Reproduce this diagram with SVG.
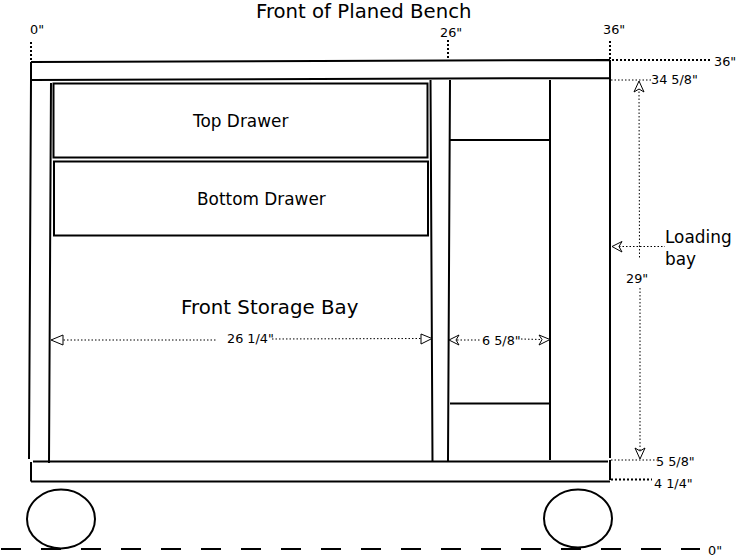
<svg xmlns="http://www.w3.org/2000/svg" width="737" height="559" viewBox="0 0 737 559">
<style>
text{font-family:"DejaVu Sans",sans-serif;fill:#000}
.s{font-size:12.800px}
.m{font-size:16.900px}
.l{font-size:19.800px}
.t{font-size:19.700px}
.b{fill:none;stroke:#000;stroke-width:2;stroke-linecap:butt}
.d{fill:none;stroke:#000;stroke-width:1;stroke-dasharray:1.5 2}
.h{fill:none;stroke:#000;stroke-width:2;stroke-dasharray:2 2}
.a{fill:#fff;stroke:#000;stroke-width:1}
</style>
<rect width="737" height="559" fill="#fff"/>
<g id="connectors">
<path class="b" d="M31 62L610 60M31 80L610 78M31 62V80M31 80L29 459M51 83L49 463M430.500 80L432.500 461M450 80L448 461M550 80V460M610 60V458M450 140H550M450 403.500H550M33 461.500H608M31 462V481.500M31 481.500H610M610 460V480"/>
<path class="h" d="M31 42V62M448 40V60M610 41V60M612 60H710M611 479.500H652"/>
<path class="d" d="M611 80H652M611 460H657M639 88L639.500 258M640 288V450M619 246.500H665M60 340H216M272 339L423 338.500M457 340H480M521 339L541 339.500"/>
<path class="a" d="M639 81L634 92L639 89L644 92ZM640 459L635 448L640 451L645 448ZM612 246.500L622 241.500L619 246.500L622 252ZM51 340L63 335V345ZM432 338.500L421 334V344ZM449 340L459 335L456 340L459 345ZM550 339.500L539 335L542 339.500L539 345Z"/>
<path fill="none" stroke="#000" stroke-width="2" stroke-dasharray="20 20" d="M1 549H700"/>
</g>
<g id="top-drawer"><rect class="b" x="53.500" y="83.500" width="374" height="74"/><text class="m" x="193" y="127">Top Drawer</text></g>
<g id="bottom-drawer"><rect class="b" x="54" y="161.500" width="374" height="74"/><text class="m" x="197" y="205">Bottom Drawer</text></g>
<g id="wheel-left"><ellipse class="b" cx="61" cy="519" rx="34" ry="29.500"/></g>
<g id="wheel-right"><ellipse class="b" cx="578" cy="518.500" rx="34" ry="29"/></g>
<g id="labels">
<text class="t" x="256" y="18">Front of Planed Bench</text>
<text class="l" x="181" y="314">Front Storage Bay</text>
<text class="m" x="665" y="243">Loading</text>
<text class="m" x="665" y="265">bay</text>
<text class="s" x="30" y="34">0"</text>
<text class="s" x="440" y="37">26"</text>
<text class="s" x="603" y="34">36"</text>
<text class="s" x="714" y="66">36"</text>
<text class="s" x="651" y="84">34 5/8"</text>
<text class="s" x="626" y="283">29"</text>
<text class="s" x="227" y="343">26 1/4"</text>
<text class="s" x="482" y="345">6 5/8"</text>
<text class="s" x="656" y="466">5 5/8"</text>
<text class="s" x="654" y="488">4 1/4"</text>
<text class="s" x="708" y="555">0"</text>
</g>
</svg>
